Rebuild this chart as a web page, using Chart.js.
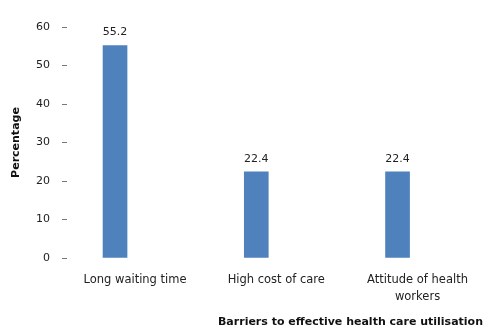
<!DOCTYPE html>
<html>
<head>
<meta charset="utf-8">
<script src="https://cdn.jsdelivr.net/npm/chart.js@4.4.1/dist/chart.umd.min.js"></script>
<style>
  html, body { margin: 0; padding: 0; background: #fff; }
  #wrap { width: 483px; height: 329px; }
</style>
</head>
<body>
<div id="wrap"><canvas id="barChart"></canvas></div>
<script>
// categories and values
const categories = ['Long waiting time', 'High cost of care', ['Attitude of health', 'workers']];
const values = [55.2, 22.4, 22.4];
const yTicks = [0, 10, 20, 30, 40, 50, 60];

const font = "'DejaVu Sans', sans-serif";

// value labels above bars
const barLabels = {
	id: 'barLabels',
	afterDatasetsDraw(chart) {
		const ctx = chart.ctx;
		const meta = chart.getDatasetMeta(0);
		ctx.save();
		ctx.font = '11px ' + font;
		ctx.fillStyle = '#222';
		ctx.textAlign = 'center';
		ctx.textBaseline = 'middle';
		meta.data.forEach((bar, i) => {
			ctx.fillText(values[i].toFixed(1), bar.x, bar.y - 13);
		});
		ctx.restore();
	}
};

new Chart(document.getElementById('barChart'), {
	type: 'bar',
	data: {
		datasets: [{
			data: values.map((v, i) => ({ x: i, y: v })),
			backgroundColor: '#4f81bd',
			borderWidth: 0,
			barThickness: 24
		}]
	},
	options: {
		responsive: true,
		maintainAspectRatio: false,
		animation: false,
		layout: { padding: { top: 27, right: 0, bottom: 0, left: 0 } },
		plugins: { legend: { display: false }, tooltip: { enabled: false } },
		scales: {
			x: {
				type: 'linear',
				offset: false,
				min: -0.34,
				max: 2.605,
				afterFit: s => { s.height = 71; },
				grid: { display: false, drawTicks: false, offset: false },
				border: { display: false },
				ticks: {
					stepSize: 1,
					includeBounds: false,
					autoSkip: false,
					maxRotation: 0,
					padding: 13,
					labelOffset: 20,
					color: '#222',
					font: { family: font, size: 11.5, lineHeight: 1.5 },
					callback: v => categories[v] ?? ''
				},
				title: {
					display: true,
					text: 'Barriers to effective health care utilisation',
					align: 'end',
					color: '#111',
					font: { family: font, size: 11, weight: 'bold' },
					padding: { top: 0, bottom: 0 }
				}
			},
			y: {
				min: 0,
				max: 60,
				afterBuildTicks: s => { s.ticks = yTicks.map(v => ({ value: v })); },
				afterFit: s => { s.width = 67; },
				grid: { drawOnChartArea: false, drawTicks: true, tickLength: 5, color: '#777' },
				border: { display: false },
				ticks: {
					padding: 12,
					color: '#222',
					font: { family: font, size: 11 }
				},
				title: {
					display: true,
					text: 'Percentage',
					color: '#111',
					font: { family: font, size: 11, weight: 'bold' },
					padding: { top: 10, bottom: 0 }
				}
			}
		}
	},
	plugins: [barLabels]
});
</script>
</body>
</html>
